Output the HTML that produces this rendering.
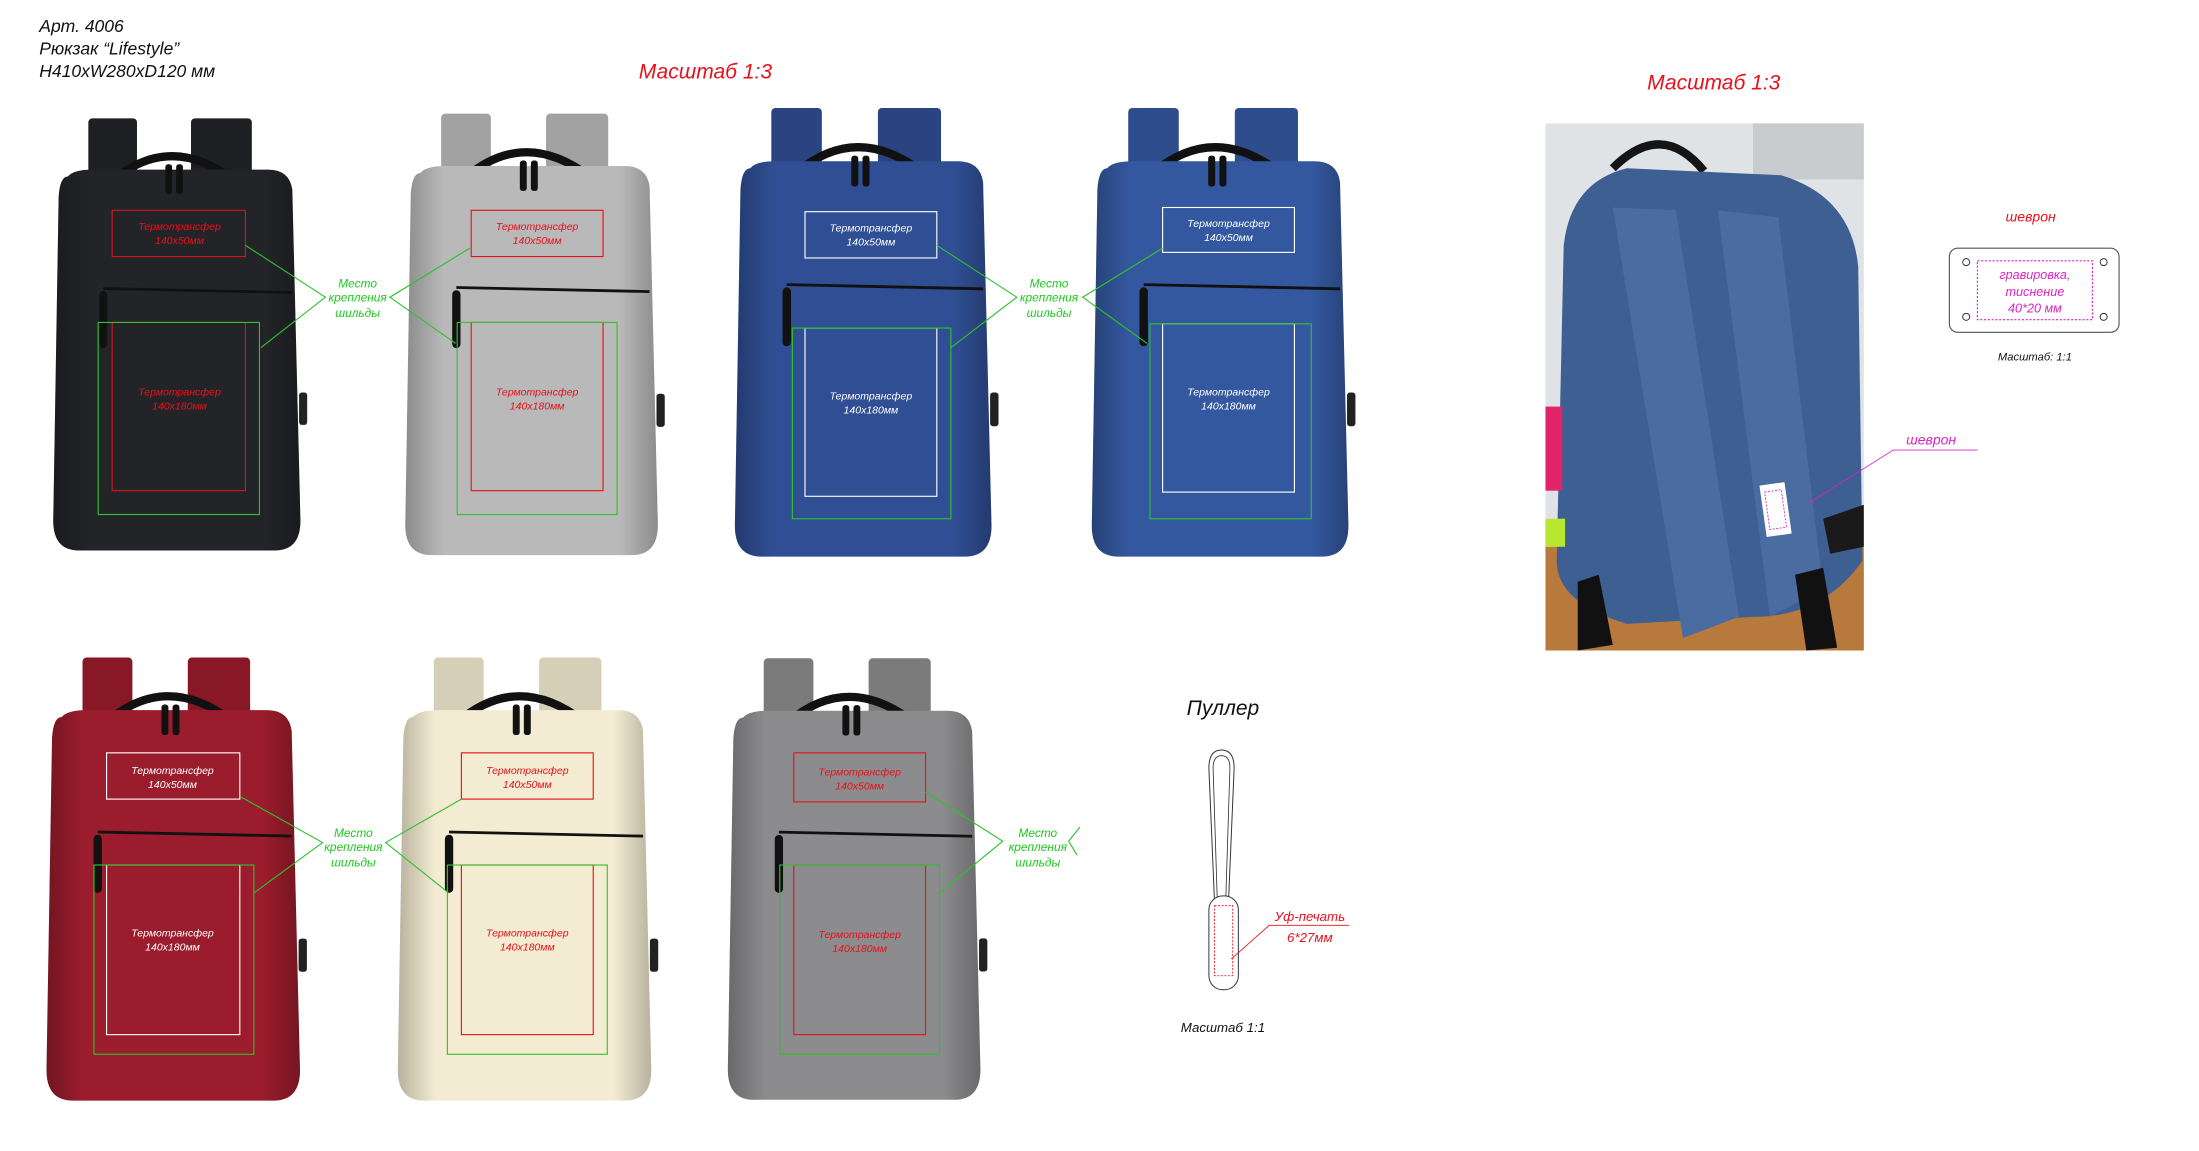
<!DOCTYPE html>
<html><head><meta charset="utf-8"><style>
html,body{margin:0;padding:0;background:#fff;}
svg{display:block;}
text{font-family:"Liberation Sans","Noto Sans CJK SC",sans-serif;font-style:italic;}
</style></head><body>
<svg width="2199" height="1151" viewBox="0 0 1568 821" preserveAspectRatio="none" xmlns="http://www.w3.org/2000/svg">
<defs>
<linearGradient id="sh" x1="0" x2="1" y1="0" y2="0">
<stop offset="0" stop-color="#000" stop-opacity="0.25"/>
<stop offset="0.15" stop-color="#000" stop-opacity="0"/>
<stop offset="0.85" stop-color="#000" stop-opacity="0"/>
<stop offset="1" stop-color="#000" stop-opacity="0.25"/>
</linearGradient>
<symbol id="bp" viewBox="0 0 190 325" overflow="visible">
<rect x="27" y="2" width="36" height="60" rx="3" fill="currentColor"/>
<rect x="103" y="2" width="45" height="60" rx="3" fill="currentColor"/>
<rect x="27" y="2" width="36" height="60" rx="3" fill="#000" opacity="0.12"/>
<rect x="103" y="2" width="45" height="60" rx="3" fill="#000" opacity="0.12"/>
<path d="M45,48 Q88,12 135,48" stroke="#111" stroke-width="6" fill="none"/>
<path d="M12,45 Q16,40 30,40 L160,40 Q176,40 178,55 L184,300 Q184,322 165,322 L20,322 Q1,322 1,300 L5,60 Q6,45 12,45 Z" fill="currentColor"/>
<path d="M12,45 Q16,40 30,40 L160,40 Q176,40 178,55 L184,300 Q184,322 165,322 L20,322 Q1,322 1,300 L5,60 Q6,45 12,45 Z" fill="url(#sh)"/>
<path d="M38,128 L178,131" stroke="#111" stroke-width="2" fill="none"/>
<rect x="35" y="130" width="6" height="42" rx="3" fill="#111"/>
<rect x="84" y="36" width="5" height="22" rx="2" fill="#111"/>
<rect x="92" y="36" width="5" height="22" rx="2" fill="#111"/>
<rect x="183" y="205" width="6" height="24" rx="2" fill="#222"/>
</symbol>
</defs>

<text x="28" y="23" font-size="12.5" fill="#111">Арт. 4006</text>
<text x="28" y="39" font-size="12.5" fill="#111">Рюкзак “Lifestyle”</text>
<text x="28" y="55" font-size="12.5" fill="#111">H410xW280xD120 мм</text>
<text x="503" y="56" font-size="15" fill="#e8101a" text-anchor="middle">Масштаб 1:3</text>
<text x="1222" y="64" font-size="15" fill="#e8101a" text-anchor="middle">Масштаб 1:3</text>

<use href="#bp" x="37" y="78" width="183" height="322" color="#232428"/>
<use href="#bp" x="288" y="78" width="187" height="322" color="#b9b9b9"/>
<use href="#bp" x="520" y="75" width="196" height="325" color="#2f4e93"/>
<use href="#bp" x="775" y="75" width="195" height="325" color="#3458a0"/>
<use href="#bp" x="30" y="467" width="192" height="321" color="#9b1c2c"/>
<use href="#bp" x="280" y="467" width="193" height="321" color="#f4ecd2"/>
<use href="#bp" x="518" y="467" width="187" height="321" color="#8c8c8e"/>

<g fill="none" stroke-width="0.8">
<rect x="80" y="150" width="95" height="33" stroke="#d0181c"/>
<rect x="80" y="230" width="95" height="120" stroke="#d0181c"/>
<rect x="70" y="230" width="115" height="137" stroke="#2ec22e"/>
<rect x="336" y="150" width="94" height="33" stroke="#e8101a"/>
<rect x="336" y="230" width="94" height="120" stroke="#e8101a"/>
<rect x="326" y="230" width="114" height="137" stroke="#2ec22e"/>
<rect x="574" y="151" width="94" height="33" stroke="#fff"/>
<rect x="574" y="234" width="94" height="120" stroke="#fff"/>
<rect x="565" y="234" width="113" height="136" stroke="#2ec22e"/>
<rect x="829" y="148" width="94" height="32" stroke="#fff"/>
<rect x="829" y="231" width="94" height="120" stroke="#fff"/>
<rect x="820" y="231" width="115" height="139" stroke="#2ec22e"/>
<rect x="76" y="537" width="95" height="33" stroke="#fff"/>
<rect x="76" y="617" width="95" height="121" stroke="#fff"/>
<rect x="67" y="617" width="114" height="135" stroke="#2ec22e"/>
<rect x="329" y="537" width="94" height="33" stroke="#e8101a"/>
<rect x="329" y="617" width="94" height="121" stroke="#e8101a"/>
<rect x="319" y="617" width="114" height="135" stroke="#2ec22e"/>
<rect x="566" y="537" width="94" height="35" stroke="#e8101a"/>
<rect x="566" y="617" width="94" height="121" stroke="#e8101a"/>
<rect x="556" y="617" width="114" height="135" stroke="#2ec22e"/>
<g stroke="#2ec22e">
<path d="M175,175 L232,212 L186,248"/><path d="M335,177 L278,212 L325,245"/>
<path d="M668,175 L725,212 L678,248"/><path d="M829,177 L772,212 L818,245"/>
<path d="M171,568 L230,601 L181,637"/><path d="M329,570 L275,601 L320,637"/>
<path d="M660,565 L715,600 L670,637"/><path d="M770,590 L762,600 L768,610"/>
</g>
</g>

<g font-size="7.5" text-anchor="middle">
<g fill="#e8101a"><text x="128" y="164">Термотрансфер</text><text x="128" y="174">140x50мм</text>
<text x="128" y="282">Термотрансфер</text><text x="128" y="292">140x180мм</text>
<text x="383" y="164">Термотрансфер</text><text x="383" y="174">140x50мм</text>
<text x="383" y="282">Термотрансфер</text><text x="383" y="292">140x180мм</text>
<text x="376" y="552">Термотрансфер</text><text x="376" y="562">140x50мм</text>
<text x="376" y="668">Термотрансфер</text><text x="376" y="678">140x180мм</text>
<text x="613" y="553">Термотрансфер</text><text x="613" y="563">140x50мм</text>
<text x="613" y="669">Термотрансфер</text><text x="613" y="679">140x180мм</text></g>
<g fill="#fff"><text x="621" y="165">Термотрансфер</text><text x="621" y="175">140x50мм</text>
<text x="621" y="285">Термотрансфер</text><text x="621" y="295">140x180мм</text>
<text x="876" y="162">Термотрансфер</text><text x="876" y="172">140x50мм</text>
<text x="876" y="282">Термотрансфер</text><text x="876" y="292">140x180мм</text>
<text x="123" y="552">Термотрансфер</text><text x="123" y="562">140x50мм</text>
<text x="123" y="668">Термотрансфер</text><text x="123" y="678">140x180мм</text></g>
<g fill="#1ec81e" font-size="8.5">
<text x="255" y="205">Место</text><text x="255" y="215">крепления</text><text x="255" y="226">шильды</text>
<text x="748" y="205">Место</text><text x="748" y="215">крепления</text><text x="748" y="226">шильды</text>
<text x="252" y="597">Место</text><text x="252" y="607">крепления</text><text x="252" y="618">шильды</text>
<text x="740" y="597">Место</text><text x="740" y="607">крепления</text><text x="740" y="618">шильды</text>
</g>
</g>

<rect x="1102" y="88" width="227" height="376" fill="#dfe3e6"/>
<rect x="1250" y="88" width="79" height="40" fill="#c8cccf"/>
<rect x="1102" y="390" width="227" height="74" fill="#b8793d"/>
<path d="M1150,120 Q1185,85 1215,122" stroke="#151515" stroke-width="6" fill="none"/>
<path d="M1115,175 Q1120,130 1160,120 L1270,125 Q1320,140 1325,190 L1328,400 Q1300,440 1250,440 L1160,445 Q1110,430 1110,400 Z" fill="#3e5f92"/>
<path d="M1150,148 L1195,150 L1240,440 L1200,455 Z" fill="#4a6ca0"/>
<path d="M1225,150 L1268,155 L1300,420 L1262,440 Z" fill="#4a6ca0"/>
<rect x="1102" y="290" width="12" height="60" fill="#e2246a"/>
<rect x="1102" y="370" width="14" height="20" fill="#b6e830"/>
<path d="M1125,415 L1140,410 L1150,460 L1125,464 Z" fill="#111"/>
<path d="M1280,410 L1300,405 L1310,462 L1288,464 Z" fill="#111"/>
<path d="M1300,370 L1329,360 L1329,390 L1305,395 Z" fill="#1a1a1a"/>
<rect x="1257" y="345" width="18" height="37" fill="#fff" transform="rotate(-8 1266 363)"/>
<rect x="1260" y="350" width="12" height="27" fill="none" stroke="#e020c8" stroke-width="0.6" stroke-dasharray="1.5,1" transform="rotate(-8 1266 363)"/>

<text x="1448" y="158" font-size="10" fill="#e8101a" text-anchor="middle">шеврон</text>
<rect x="1390" y="177" width="121" height="60" rx="6" fill="#fff" stroke="#555" stroke-width="0.8"/>
<rect x="1410" y="186" width="82" height="42" fill="none" stroke="#e020c8" stroke-width="0.8" stroke-dasharray="1.5,1.2"/>
<g fill="none" stroke="#333" stroke-width="0.7"><circle cx="1402" cy="187" r="2.5"/><circle cx="1500" cy="187" r="2.5"/><circle cx="1402" cy="226" r="2.5"/><circle cx="1500" cy="226" r="2.5"/></g>
<g font-size="9" fill="#e020c8" text-anchor="middle"><text x="1451" y="199">гравировка,</text><text x="1451" y="211">тиснение</text><text x="1451" y="223">40*20 мм</text></g>
<text x="1451" y="257" font-size="8" fill="#111" text-anchor="middle">Масштаб: 1:1</text>
<text x="1377" y="317" font-size="10" fill="#e020c8" text-anchor="middle">шеврон</text>
<path d="M1410,321 L1350,321 L1288,360" stroke="#e020c8" stroke-width="0.6" fill="none"/>

<text x="872" y="510" font-size="15" fill="#111" text-anchor="middle">Пуллер</text>
<path d="M866,643 L862,548 Q862,535 871,535 Q880,535 880,548 L876,643" fill="none" stroke="#333" stroke-width="0.7"/>
<path d="M868,643 L865,548 Q865,539 871,539 Q877,539 877,548 L874,643" fill="none" stroke="#333" stroke-width="0.6"/>
<rect x="862" y="639" width="21" height="67" rx="10" fill="#fff" stroke="#333" stroke-width="0.7"/>
<rect x="866" y="646" width="13" height="50" fill="none" stroke="#e8101a" stroke-width="0.6" stroke-dasharray="1.5,1"/>
<path d="M962,660 L905,660 L878,684" stroke="#e8101a" stroke-width="0.6" fill="none"/>
<text x="934" y="657" font-size="9.5" fill="#e8101a" text-anchor="middle">Уф-печать</text>
<text x="934" y="672" font-size="9.5" fill="#e8101a" text-anchor="middle">6*27мм</text>
<text x="872" y="736" font-size="9.5" fill="#111" text-anchor="middle">Масштаб 1:1</text>
</svg>
</body></html>
